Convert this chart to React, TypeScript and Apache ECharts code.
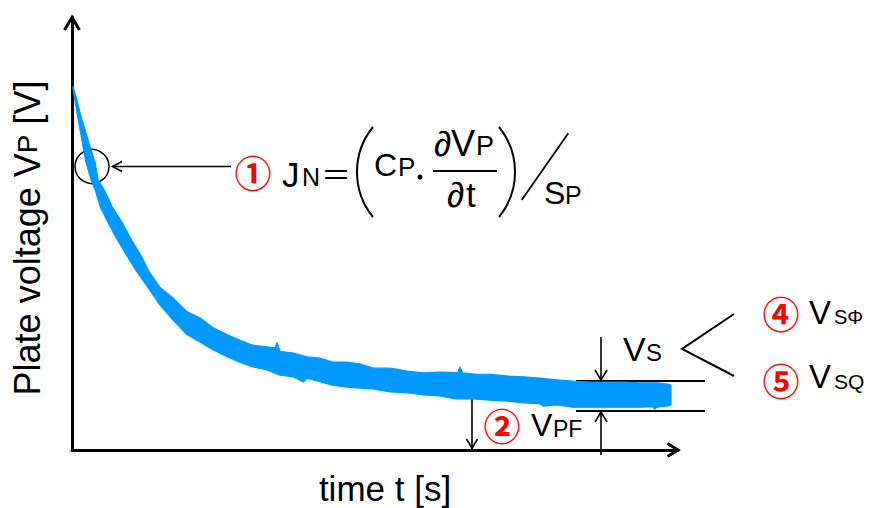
import React, { useEffect, useRef } from "react";
import * as echarts from "echarts";

// Noisy plate-voltage decay (time [s], voltage [arb. V])
const bandUpper: [number, number][] = [
  [0.1, 840], [0.5, 808], [0.8, 778], [1.3, 739], [1.8, 700], [2.3, 663], [2.6, 623],
  [3.3, 596], [4.0, 561], [5.0, 524], [5.9, 485], [6.9, 446], [7.7, 409], [8.7, 376],
  [10.0, 351], [11.4, 319], [12.7, 305], [14.0, 282], [15.4, 266], [16.6, 254], [17.9, 242],
  [19.3, 238], [20.1, 236], [20.3, 248], [20.6, 228], [21.9, 224], [23.3, 215], [24.6, 212],
  [25.8, 203], [27.2, 203], [28.5, 199], [29.8, 189], [31.5, 189], [33.2, 182], [34.8, 178],
  [36.4, 180], [38.2, 179], [38.4, 192], [38.7, 178], [40.1, 175], [41.4, 175], [43.1, 171],
  [44.7, 169], [46.3, 166], [48.0, 162], [49.6, 159], [51.3, 157], [53.0, 157], [54.6, 157],
  [56.2, 155], [57.9, 155], [59.0, 152], [59.3, 150],
];
const bandLower: [number, number][] = [
  [59.3, 104], [59.0, 102], [57.9, 99], [57.7, 94], [57.5, 100], [56.2, 99], [54.6, 99],
  [53.0, 99], [51.3, 99], [49.6, 99], [48.0, 104], [46.7, 101], [46.3, 107], [44.7, 109],
  [43.1, 113], [41.4, 115], [39.7, 118], [38.0, 118], [36.4, 125], [34.8, 127], [33.2, 132],
  [31.5, 134], [29.8, 141], [28.5, 143], [27.2, 145], [25.8, 150], [24.6, 157], [23.3, 166],
  [22.9, 157], [21.9, 169], [20.6, 173], [19.3, 185], [17.9, 192], [16.6, 203], [15.4, 215],
  [14.0, 231], [12.7, 249], [11.4, 266], [10.0, 300], [8.7, 335], [7.5, 376], [6.5, 409],
  [5.5, 446], [4.5, 485], [3.6, 524], [2.8, 561], [2.3, 600], [1.9, 623], [1.4, 663],
  [1.1, 700], [0.8, 739], [0.5, 778], [0.2, 820], [0.1, 836],
];

const T_MAX = 60;
const V_MAX = 1000;

const BLUE = "#0099FF";
const RED = "#FF0000";
const LATIN = '"Liberation Sans", Arial, sans-serif';
const CJK = '"Noto Sans CJK JP", sans-serif';

function txt(text: string, x: number, y: number, size: number, opts: any = {}) {
  const align = opts.align || "left";
  return {
    type: "text",
    x,
    y,
    silent: true,
    style: {
      text,
      fontSize: size,
      fontFamily: opts.family || LATIN,
      fontWeight: opts.weight || "normal",
      fill: opts.color || "#000",
      lineHeight: opts.lineHeight || undefined,
      align,
      verticalAlign: "middle",
      textAlign: align,
      textVerticalAlign: "middle",
    },
  };
}

function seg(x1: number, y1: number, x2: number, y2: number, w = 1.6) {
  return {
    type: "line",
    silent: true,
    shape: { x1, y1, x2, y2 },
    style: { stroke: "#000", lineWidth: w },
  };
}

function poly(points: number[][], w = 1.6) {
  return {
    type: "polyline",
    silent: true,
    shape: { points },
    style: { stroke: "#000", lineWidth: w, fill: "none", lineJoin: "miter" },
  };
}

const circ = (t: string, x: number, y: number) =>
  txt(t, x, y, 37, { family: CJK, color: RED, align: "center", weight: "bold" });

export default function App() {
  const ref = useRef<HTMLDivElement>(null);
  useEffect(() => {
    const chart = echarts.init(ref.current!, null, { renderer: "svg", width: 872, height: 508 });
    const polygon = [...bandUpper, ...bandLower];

    const elements: any[] = [
      // axis arrowheads
      poly([[64.5, 30], [72, 17.5], [79.5, 30]], 3),
      poly([[667.5, 443.5], [678, 450], [667.5, 456.5]], 3),
      // circle marker + arrow (1)
      {
        type: "circle",
        silent: true,
        shape: { cx: 92, cy: 166.5, r: 17 },
        style: { fill: "none", stroke: "#000", lineWidth: 1.5 },
      },
      seg(113, 166.5, 231, 166.5),
      poly([[122, 161.5], [112.5, 166.5], [122, 171.5]]),
      circ("①", 253, 171.5),
      txt("J", 282, 174, 35),
      txt("N", 302, 176.5, 25),
      txt("＝", 336, 173, 30, { family: CJK, align: "center" }),
      {
        type: "arc",
        silent: true,
        shape: { cx: 428.3, cy: 172, r: 71.3, startAngle: Math.PI - 0.683, endAngle: Math.PI + 0.683, clockwise: true },
        style: { stroke: "#000", lineWidth: 2, fill: "none" },
      },
      txt("C", 374, 165, 32),
      txt("P", 398, 166.5, 26),
      {
        type: "circle",
        silent: true,
        shape: { cx: 420, cy: 177, r: 2.5 },
        style: { fill: "#000" },
      },
      txt("∂", 434, 143.5, 35),
      txt("V", 451, 143.5, 36),
      txt("P", 476, 146, 27),
      seg(433, 171, 497, 171, 2),
      txt("∂", 447, 194, 35),
      txt("t", 466, 194, 35),
      {
        type: "arc",
        silent: true,
        shape: { cx: 443.7, cy: 172, r: 71.3, startAngle: -0.683, endAngle: 0.683, clockwise: true },
        style: { stroke: "#000", lineWidth: 2, fill: "none" },
      },
      seg(521.7, 200, 568.3, 133.3, 1.8),
      txt("S", 544, 193, 32),
      txt("P", 565, 195, 25),

      // (2) VPF
      seg(437, 387, 498, 387),
      seg(472, 388, 472, 449),
      poly([[466.5, 397], [472, 387.5], [477.5, 397]]),
      poly([[466.5, 439], [472, 448.5], [477.5, 439]]),
      circ("②", 502, 425),
      txt("V", 531, 425, 32),
      txt("PF", 553, 428.5, 23),

      // Vs band
      seg(576, 381, 705, 381, 1.8),
      seg(576, 411, 705, 411, 1.8),
      seg(601, 337, 601, 380),
      poly([[595, 370], [601, 380], [607, 370]]),
      seg(601, 455, 601, 412),
      poly([[595, 422], [601, 412], [607, 422]]),
      txt("V", 623, 348.5, 34),
      txt("S", 646, 352, 24),
      poly([[734, 314], [682, 349], [734, 376]], 2),
      circ("④", 781, 312.5),
      txt("V", 809, 312, 33),
      txt("SΦ", 834, 317, 20),
      circ("⑤", 781, 380),
      txt("V", 809, 376.5, 33),
      txt("SQ", 834, 381, 21),

      // axis titles
      txt("time t [s]", 385, 488.5, 35, { align: "center", lineHeight: 36 }),
      {
        type: "text",
        x: 27,
        y: 238,
        rotation: Math.PI / 2,
        silent: true,
        style: {
          text: "{a|Plate voltage V}{b|P}{a| [V]}",
          align: "center",
          verticalAlign: "middle",
          textAlign: "center",
          textVerticalAlign: "middle",
          fill: "#000",
          rich: {
            a: { fontSize: 36, fontFamily: LATIN, fill: "#000" },
            b: { fontSize: 28, fontFamily: LATIN, fill: "#000" },
          },
        },
      },
    ];

    chart.setOption({
      animation: false,
      grid: { left: 72, right: 194, top: 17, bottom: 58 },
      xAxis: {
        type: "value",
        min: 0,
        max: T_MAX,
        axisLine: { show: true, onZero: false, lineStyle: { color: "#000", width: 3 } },
        axisTick: { show: false },
        axisLabel: { show: false },
        splitLine: { show: false },
      },
      yAxis: {
        type: "value",
        min: 0,
        max: V_MAX,
        axisLine: { show: true, onZero: false, lineStyle: { color: "#000", width: 3 } },
        axisTick: { show: false },
        axisLabel: { show: false },
        splitLine: { show: false },
      },
      series: [
        {
          type: "custom",
          silent: true,
          clip: false,
          data: [[0, 0]],
          renderItem: (params: any, api: any) => {
            const pts = polygon.map((p) => api.coord(p));
            return {
              type: "polygon",
              shape: { points: pts },
              style: { fill: BLUE, stroke: BLUE, lineWidth: 1.2, lineJoin: "round" },
            };
          },
        },
      ],
      graphic: { elements },
    });
    return () => chart.dispose();
  }, []);
  return (
    <div
      ref={ref}
      style={{ position: "fixed", left: 0, top: 0, width: 872, height: 508, background: "#fff" }}
    />
  );
}
